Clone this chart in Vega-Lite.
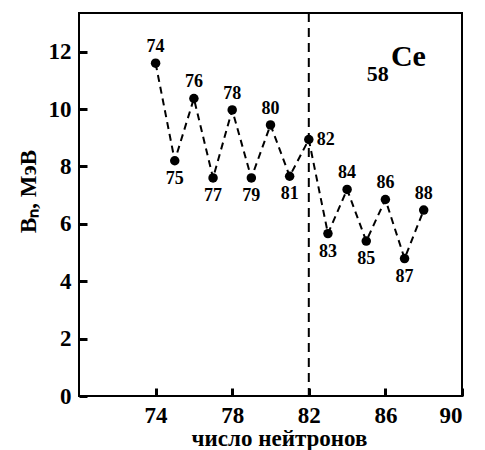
{
  "$schema": "https://vega.github.io/schema/vega-lite/v6.json",
  "width": 383,
  "height": 383,
  "autosize": "none",
  "padding": {"left": 79, "top": 13, "right": 23, "bottom": 54},
  "background": "white",
  "config": {
    "view": {"stroke": "black", "strokeWidth": 2},
    "font": "Liberation Serif"
  },
  "datasets": {
    "bn": [
      {"n": 74, "bn": 11.6},
      {"n": 75, "bn": 8.2},
      {"n": 76, "bn": 10.37},
      {"n": 77, "bn": 7.6},
      {"n": 78, "bn": 9.97},
      {"n": 79, "bn": 7.6},
      {"n": 80, "bn": 9.45},
      {"n": 81, "bn": 7.66},
      {"n": 82, "bn": 8.94},
      {"n": 83, "bn": 5.66},
      {"n": 84, "bn": 7.2},
      {"n": 85, "bn": 5.4},
      {"n": 86, "bn": 6.85},
      {"n": 87, "bn": 4.79},
      {"n": 88, "bn": 6.48}
    ],
    "sym": [
      {"x": 87.2, "y": 11.8, "t": "Ce"},
      {"x": 85.6, "y": 11.22, "t": "58"}
    ],
    "magic": [{"n": 82}]
  },
  "layer": [
    {
      "data": {"name": "bn"},
      "mark": {"type": "point", "filled": true, "color": "black", "size": 90, "opacity": 1},
      "encoding": {
        "x": {"field": "n", "type": "quantitative", "scale": {"domain": [70, 90], "nice": false, "zero": false},
          "axis": {"orient": "bottom", "values": [74, 78, 82, 86, 90], "grid": false, "domain": false, "ticks": true, "tickSize": -8, "tickWidth": 3, "tickColor": "#000", "labelPadding": 16, "labelFont": "Liberation Serif", "labelFontSize": 23, "labelFontWeight": "bold", "labelColor": "black", "title": "число  нейтронов", "titleFont": "Liberation Serif", "titleFontSize": 23, "titleFontWeight": "bold", "titleColor": "black", "titleX": 200, "titleY": 42, "titleBaseline": "middle", "titleAnchor": "middle"}},
        "y": {"field": "bn", "type": "quantitative", "scale": {"domain": [0, 13.35], "nice": false},
          "axis": {"orient": "left", "values": [0, 2, 4, 6, 8, 10, 12], "grid": false, "domain": false, "ticks": true, "tickSize": -8, "tickWidth": 3, "tickColor": "#000", "labelPadding": 16, "labelFont": "Liberation Serif", "labelFontSize": 23, "labelFontWeight": "bold", "labelColor": "black", "title": "Bₙ,  МэВ", "titleFont": "Liberation Serif", "titleFontSize": 23, "titleFontWeight": "bold", "titleColor": "black", "titleX": -51, "titleY": 178, "titleBaseline": "middle", "titleAngle": -90, "titleAnchor": "middle"}}
      }
    },
    {
      "data": {"name": "bn"},
      "mark": {"type": "line", "stroke": "black", "strokeWidth": 2, "strokeDash": [7, 5]},
      "encoding": {
        "x": {"field": "n", "type": "quantitative"},
        "y": {"field": "bn", "type": "quantitative"}
      }
    },
    {
      "data": {"name": "magic"},
      "mark": {"type": "rule", "stroke": "black", "strokeWidth": 2, "strokeDash": [9, 6]},
      "encoding": {
        "x": {"field": "n", "type": "quantitative"}
      }
    },
    {
      "data": {"name": "bn"},
      "transform": [{"filter": "datum.n % 2 == 0 && datum.n != 82"}],
      "mark": {"type": "text", "font": "Liberation Serif", "fontSize": 18, "fontWeight": "bold", "color": "black", "dy": -16},
      "encoding": {
        "x": {"field": "n", "type": "quantitative"},
        "y": {"field": "bn", "type": "quantitative"},
        "text": {"field": "n"}
      }
    },
    {
      "data": {"name": "bn"},
      "transform": [{"filter": "datum.n % 2 == 1"}],
      "mark": {"type": "text", "font": "Liberation Serif", "fontSize": 18, "fontWeight": "bold", "color": "black", "dy": 18},
      "encoding": {
        "x": {"field": "n", "type": "quantitative"},
        "y": {"field": "bn", "type": "quantitative"},
        "text": {"field": "n"}
      }
    },
    {
      "data": {"name": "bn"},
      "transform": [{"filter": "datum.n == 82"}],
      "mark": {"type": "text", "font": "Liberation Serif", "fontSize": 18, "fontWeight": "bold", "color": "black", "dx": 8, "align": "left"},
      "encoding": {
        "x": {"field": "n", "type": "quantitative"},
        "y": {"field": "bn", "type": "quantitative"},
        "text": {"field": "n"}
      }
    },
    {
      "data": {"name": "sym"},
      "transform": [{"filter": "datum.t == 'Ce'"}],
      "mark": {"type": "text", "font": "Liberation Serif", "fontSize": 30, "fontWeight": "bold", "color": "black"},
      "encoding": {
        "x": {"field": "x", "type": "quantitative"},
        "y": {"field": "y", "type": "quantitative"},
        "text": {"field": "t"}
      }
    },
    {
      "data": {"name": "sym"},
      "transform": [{"filter": "datum.t == '58'"}],
      "mark": {"type": "text", "font": "Liberation Serif", "fontSize": 22, "fontWeight": "bold", "color": "black"},
      "encoding": {
        "x": {"field": "x", "type": "quantitative"},
        "y": {"field": "y", "type": "quantitative"},
        "text": {"field": "t"}
      }
    }
  ]
}
